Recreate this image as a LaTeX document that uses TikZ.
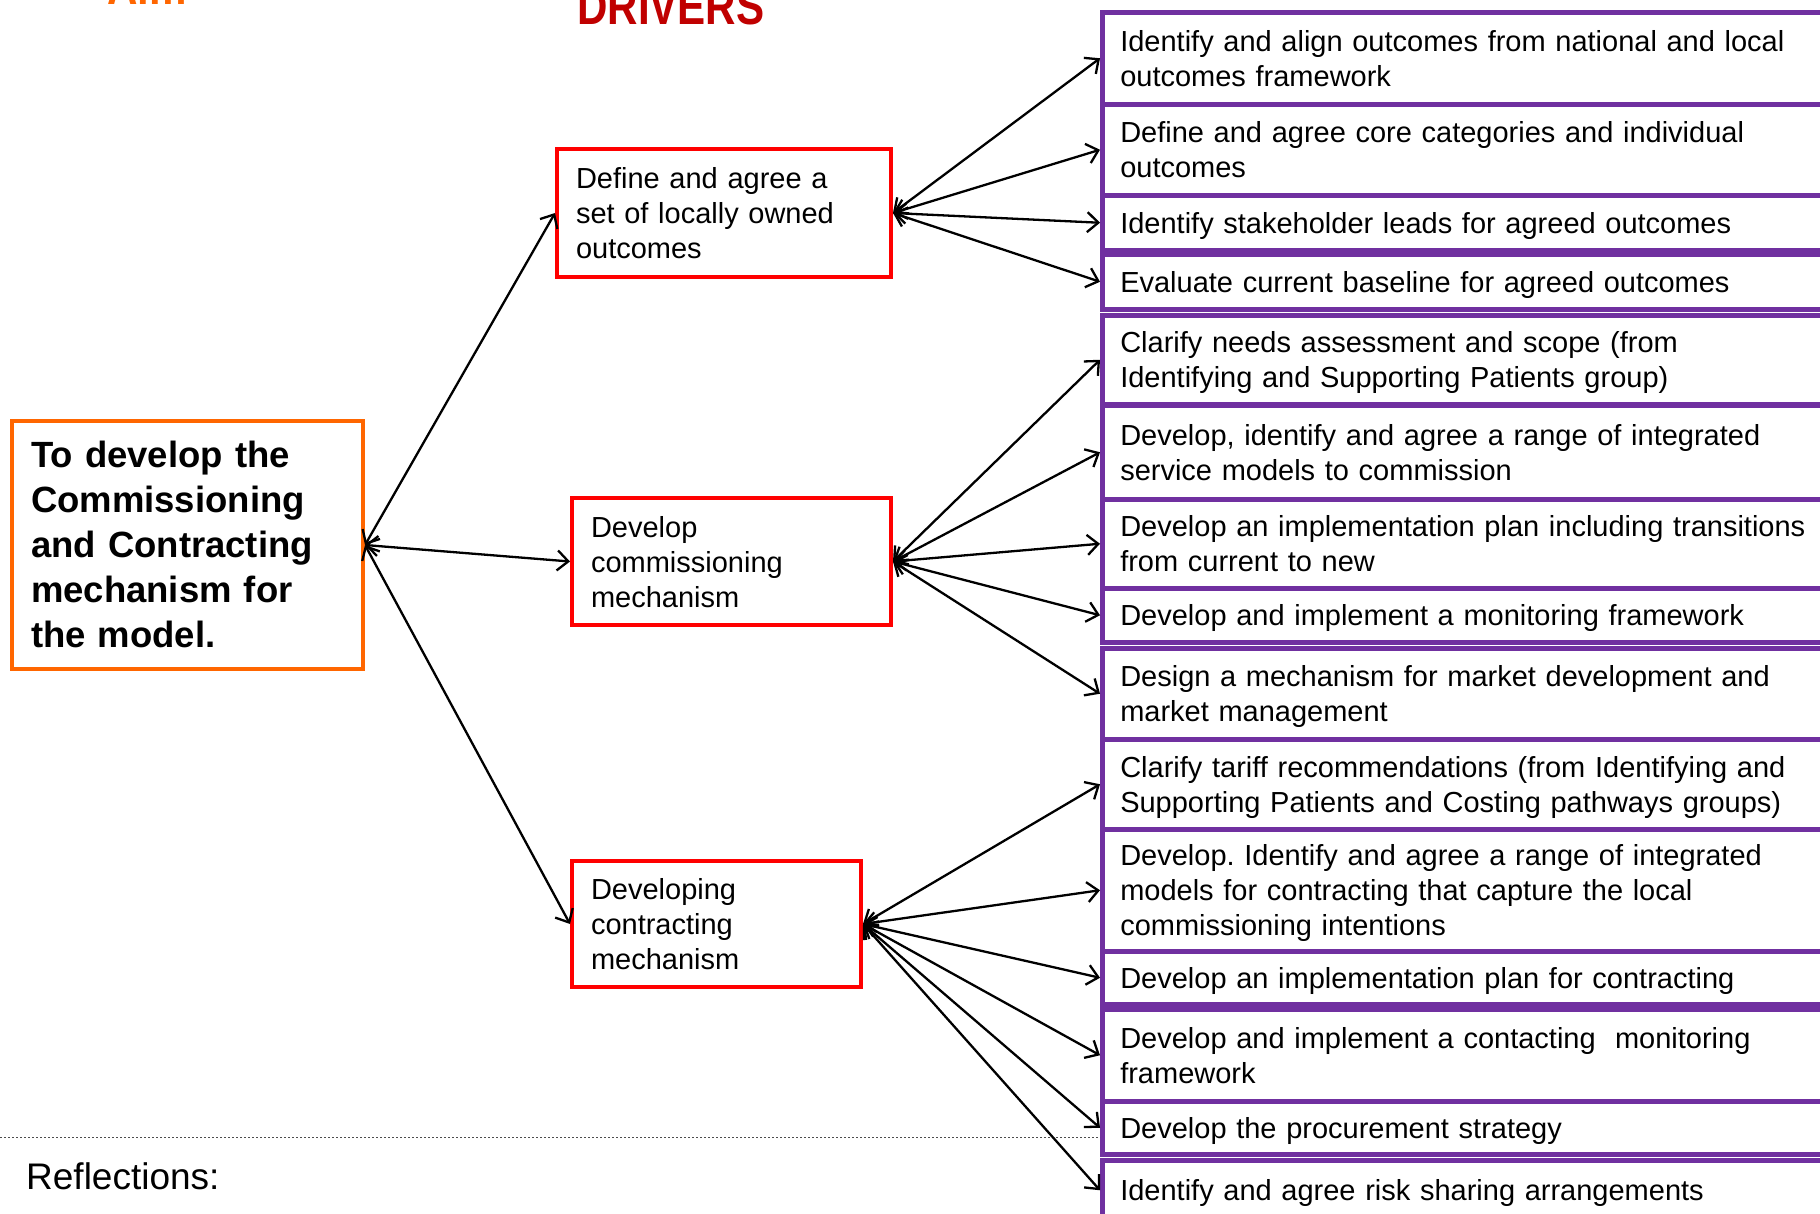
\documentclass[tikz,border=0pt]{standalone}
\usepackage{fontspec}
\setmainfont{Liberation Sans}
\usetikzlibrary{arrows.meta}
\definecolor{aimorange}{RGB}{255,102,0}
\definecolor{boxred}{RGB}{255,0,0}
\definecolor{drvred}{RGB}{192,0,0}
\definecolor{purp}{RGB}{112,48,160}
\newcommand\boxstrut{\rule[-7pt]{0pt}{35pt}}
\newcommand\aimstrut{\rule[-10.5pt]{0pt}{45pt}}
\begin{document}
\begin{tikzpicture}[x=1pt,y=-1pt,
  conn/.style={{Straight Barb[length=11pt,width=20pt]}-{Straight Barb[length=11pt,width=20pt]}, line width=2.3pt, black},
  pbox/.style={draw=purp, line width=4.5pt, rectangle, anchor=north west, minimum width=760pt, text width=724pt, inner xsep=18pt, inner ysep=0pt, align=left, font=\fontsize{29}{35}\selectfont},
  rbox/.style={draw=boxred, line width=4pt, rectangle, anchor=north west, inner xsep=19pt, inner ysep=0pt, align=left, font=\fontsize{29}{35}\selectfont},
  abox/.style={draw=aimorange, line width=4pt, rectangle, anchor=north west, inner xsep=19pt, inner ysep=0pt, align=left, font=\fontsize{36.5}{45}\selectfont\bfseries},
  ttl/.style={anchor=base west, inner sep=0pt, font=\fontsize{52}{52}\selectfont\bfseries},
  dotline/.style={line width=1pt, gray!60!black, dash pattern=on 2pt off 2pt}]
\useasboundingbox (0,0) rectangle (1820,1213);
\clip (0,0) rectangle (1820,1213);
\fill[white] (0,0) rectangle (1820,1213);

% titles
\node[ttl, text=aimorange] (aimttl) at (107,4) {\scalebox{0.81}[1]{Aim}};
\node[ttl, text=drvred] (drvttl) at (577,24) {\scalebox{0.81}[1]{DRIVERS}};

% aim box
\node[abox, minimum width=351pt, minimum height=248pt, text width=313pt] (aim) at (10,419)
  {\aimstrut To develop the\\ Commissioning\\ and Contracting\\ mechanism for\\ the model.\aimstrut};

% red driver boxes
\node[rbox, minimum width=334pt, minimum height=128pt, text width=296pt] (r1) at (555,147)
  {\boxstrut Define and agree a\\ set of locally owned\\ outcomes\boxstrut};
\node[rbox, minimum width=319pt, minimum height=127pt, text width=281pt] (r2) at (570,496)
  {\boxstrut Develop\\ commissioning\\ mechanism\boxstrut};
\node[rbox, minimum width=289pt, minimum height=126pt, text width=251pt] (r3) at (570,859)
  {\boxstrut Developing\\ contracting\\ mechanism\boxstrut};

% purple boxes
\node[pbox, minimum height=92pt] (p1) at (1100,10)
  {\boxstrut Identify and align outcomes from national and local\\ outcomes framework\boxstrut};
\node[pbox, minimum height=91pt] (p2) at (1100,102)
  {\boxstrut Define and agree core categories and individual\\ outcomes\boxstrut};
\node[pbox, minimum height=55pt] (p3) at (1100,193)
  {\boxstrut Identify stakeholder leads for agreed outcomes\boxstrut};
\node[pbox, minimum height=55pt] (p4) at (1100,252)
  {\boxstrut Evaluate current baseline for agreed outcomes\boxstrut};
\node[pbox, minimum height=89pt] (p5) at (1100,313)
  {\boxstrut Clarify needs assessment and scope (from\\ Identifying and Supporting Patients group)\boxstrut};
\node[pbox, minimum height=94pt] (p6) at (1100,403)
  {\boxstrut Develop, identify and agree a range of integrated\\ service models to commission\boxstrut};
\node[pbox, minimum height=89pt] (p7) at (1100,497)
  {\boxstrut Develop an implementation plan including transitions\\ from current to new\boxstrut};
\node[pbox, minimum height=54pt] (p8) at (1100,586)
  {\boxstrut Develop and implement a monitoring framework\boxstrut};
\node[pbox, minimum height=91pt] (p9) at (1100,646)
  {\boxstrut Design a mechanism for market development and\\ market management\boxstrut};
\node[pbox, minimum height=90pt] (p10) at (1100,737)
  {\boxstrut Clarify tariff recommendations (from Identifying and\\ Supporting Patients and Costing pathways groups)\boxstrut};
\node[pbox, minimum height=122pt] (p11) at (1100,827)
  {\boxstrut Develop.\ Identify and agree a range of integrated\\ models for contracting that capture the local\\ commissioning intentions\boxstrut};
\node[pbox, minimum height=53pt] (p12) at (1100,949)
  {\boxstrut Develop an implementation plan for contracting\boxstrut};
\node[pbox, minimum height=92pt] (p13) at (1100,1007)
  {\boxstrut Develop and implement a contacting\ \ monitoring\\ framework\boxstrut};
\node[pbox, minimum height=53pt] (p14) at (1100,1099)
  {\boxstrut Develop the procurement strategy\boxstrut};
\node[pbox, minimum height=60pt] (p15) at (1100,1158)
  {\boxstrut Identify and agree risk sharing arrangements\boxstrut};

% reflections
\draw[dotline] (0,1137) -- (1100,1137);
\node[anchor=base west, inner sep=0pt, font=\fontsize{37}{37}\selectfont] (refl) at (26,1189) {Reflections:};

% connectors
\draw[conn] (aim.east) -- (r1.west);
\draw[conn] (aim.east) -- (r2.west);
\draw[conn] (aim.east) -- (r3.west);

\foreach \p in {p1,p2,p3,p4} \draw[conn] (r1.east) -- (\p.west);
\foreach \p in {p5,p6,p7,p8,p9} \draw[conn] (r2.east) -- (\p.west);
\foreach \p in {p10,p11,p12,p13,p14,p15} \draw[conn] (r3.east) -- (\p.west);
\end{tikzpicture}
\end{document}
